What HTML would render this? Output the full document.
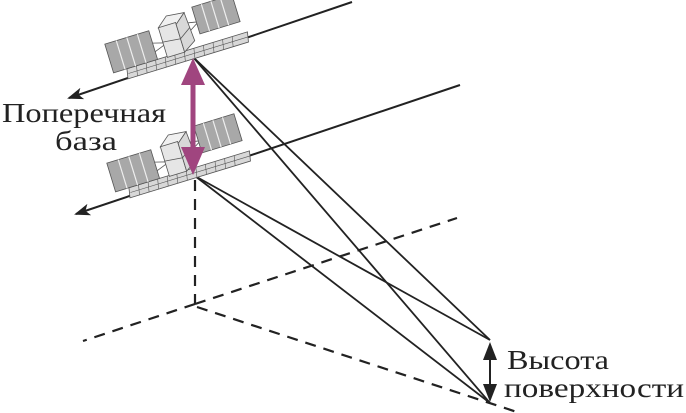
<!DOCTYPE html>
<html><head><meta charset="utf-8"><style>
html,body{margin:0;padding:0;background:#fff;width:686px;height:413px;overflow:hidden}
svg{display:block}
</style></head><body>
<svg width="686" height="413" viewBox="0 0 686 413" xmlns="http://www.w3.org/2000/svg">
<defs>
<marker id="ah" markerWidth="16" markerHeight="12" refX="14" refY="6" orient="auto" markerUnits="userSpaceOnUse" viewBox="0 0 16 12">
<path d="M0,0 L16,6 L0,12 L4,6 z" fill="#222"/></marker>
<g id="sat">
  <path d="M-66,-10 L60,-10 L58,0 L-68,0 z" fill="#d8d8d8" stroke="#555" stroke-width="0.8"/>
  <path d="M-56,-10 l-2,10 M-46,-10 l-2,10 M-36,-10 l-2,10 M-26,-10 l-2,10 M-16,-10 l-2,10 M-6,-10 l-2,10 M4,-10 l-2,10 M14,-10 l-2,10 M24,-10 l-2,10 M34,-10 l-2,10 M44,-10 l-2,10 M-66,-5 L59,-5" stroke="#555" stroke-width="0.6" fill="none"/>
  <path d="M-34,-27 L-20,-23 L-34,-18" fill="none" stroke="#555" stroke-width="0.8"/>
  <rect x="-80" y="-40" width="46" height="30" fill="#a8a8a8" stroke="#555" stroke-width="0.8"/>
  <path d="M-68,-40v30M-57,-40v30M-46,-40v30" stroke="#eee" stroke-width="1.2"/>
  <path d="M6,-36 L16,-34 L6,-28" fill="none" stroke="#555" stroke-width="0.8"/>
  <rect x="14" y="-50" width="42" height="28" fill="#a8a8a8" stroke="#555" stroke-width="0.8"/>
  <path d="M24,-50v28M34,-50v28M44,-50v28" stroke="#eee" stroke-width="1.2"/>
  <path d="M-24,-40 L-13,-49 L5,-47 L-6,-38 z" fill="#f0f0f0" stroke="#555" stroke-width="0.8"/>
  <rect x="-24" y="-40" width="18" height="31" fill="#e6e6e6" stroke="#555" stroke-width="0.8"/>
  <path d="M-6,-38 L5,-47 L7,-17 L-6,-9 z" fill="#d8d8d8" stroke="#555" stroke-width="0.8"/>
  <path d="M-24,-25 L-6,-23 L6,-31" fill="none" stroke="#555" stroke-width="0.8"/>
</g>
</defs>
<line x1="352" y1="2" x2="69" y2="98" stroke="#222" stroke-width="2" marker-end="url(#ah)"/>
<line x1="460" y1="85" x2="76" y2="214" stroke="#222" stroke-width="2" marker-end="url(#ah)"/>
<g stroke="#222" stroke-width="2.2" stroke-dasharray="11,8" fill="none">
<line x1="195" y1="180" x2="195" y2="304"/>
<line x1="195" y1="304" x2="457" y2="218"/>
<line x1="195" y1="304" x2="83" y2="341"/>
<line x1="197" y1="307" x2="520" y2="413"/>
</g>
<g stroke="#222" stroke-width="1.8">
<line x1="193" y1="57" x2="490" y2="340"/>
<line x1="193" y1="57" x2="490" y2="403"/>
<line x1="195" y1="176" x2="490" y2="340"/>
<line x1="195" y1="176" x2="490" y2="403"/>
</g>
<use href="#sat" transform="translate(193,59) rotate(-17)"/>
<use href="#sat" transform="translate(195,178) rotate(-17)"/>
<line x1="193" y1="80" x2="193" y2="150" stroke="#a0457f" stroke-width="5"/>
<path d="M193,58 L181,85 L205,85 z" fill="#a0457f"/>
<path d="M193,175 L181,147 L205,147 z" fill="#a0457f"/>
<line x1="490" y1="355" x2="490" y2="390" stroke="#222" stroke-width="2"/>
<path d="M490,342 L483,360 L497,360 z" fill="#222"/>
<path d="M490,402 L483,384 L497,384 z" fill="#222"/>
<g font-family="'Liberation Serif','DejaVu Serif',serif" font-size="27" fill="#222">
<text x="2" y="122" textLength="164" lengthAdjust="spacingAndGlyphs">Поперечная</text>
<text x="55" y="150" textLength="62" lengthAdjust="spacingAndGlyphs">база</text>
<text x="507" y="369" textLength="102" lengthAdjust="spacingAndGlyphs">Высота</text>
<text x="504" y="397" textLength="180" lengthAdjust="spacingAndGlyphs">поверхности</text>
</g>
</svg>
</body></html>
